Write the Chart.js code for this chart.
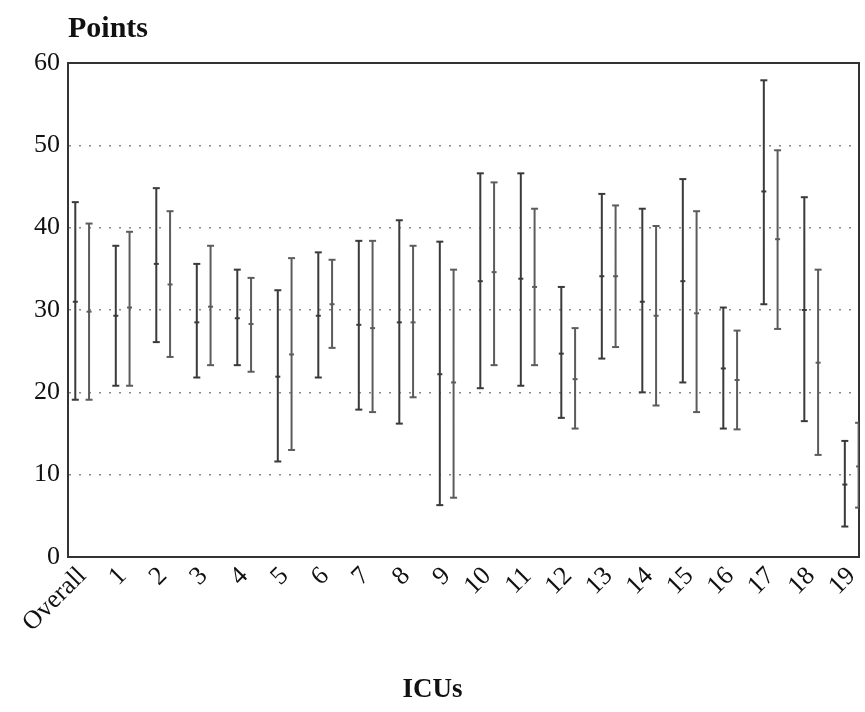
<!DOCTYPE html>
<html>
<head>
<meta charset="utf-8">
<script src="https://cdn.jsdelivr.net/npm/chart.js@4.4.1/dist/chart.umd.min.js"></script>
<style>
  html, body { margin: 0; padding: 0; background: #fff; }
  #wrap { width: 865px; height: 712px; }
</style>
</head>
<body>
<div id="wrap"><canvas id="icuChart"></canvas></div>
<script>
// categories along x
const categories = ['Overall', '1', '2', '3', '4', '5', '6', '7', '8', '9', '10',
    '11', '12', '13', '14', '15', '16', '17', '18', '19'];

// first bar of each pair
const lowA  = [19.1, 20.8, 26.1, 21.8, 23.3, 11.6, 21.8, 17.9, 16.2, 6.3, 20.5, 20.8, 16.9, 24.1, 20.0, 21.2, 15.6, 30.7, 16.5, 3.7];
const highA = [43.1, 37.8, 44.8, 35.6, 34.9, 32.4, 37.0, 38.4, 40.9, 38.3, 46.6, 46.6, 32.8, 44.1, 42.3, 45.9, 30.3, 57.9, 43.7, 14.1];
const midA  = [31.0, 29.3, 35.6, 28.5, 29.0, 21.9, 29.3, 28.2, 28.5, 22.2, 33.5, 33.8, 24.7, 34.1, 31.0, 33.5, 22.9, 44.4, 30.0, 8.8];

// second bar of each pair
const lowB  = [19.1, 20.8, 24.3, 23.3, 22.5, 13.0, 25.4, 17.6, 19.4, 7.2, 23.3, 23.3, 15.6, 25.5, 18.4, 17.6, 15.5, 27.7, 12.4, 6.0];
const highB = [40.5, 39.5, 42.0, 37.8, 33.9, 36.3, 36.1, 38.4, 37.8, 34.9, 45.5, 42.3, 27.8, 42.7, 40.2, 42.0, 27.5, 49.4, 34.9, 16.3];
const midB  = [29.8, 30.3, 33.1, 30.4, 28.3, 24.6, 30.7, 27.8, 28.5, 21.2, 34.6, 32.8, 21.6, 34.1, 29.3, 29.6, 21.5, 38.6, 23.6, 11.0];

const yTicks = [0, 10, 20, 30, 40, 50, 60];

const pairShift = 0.17;

// vertical whisker: low -> high, then a gap
function whiskers(lows, highs, shift) {
    const pts = [];
    lows.forEach(function(lo, i) {
        pts.push({x: i + shift, y: lo});
        pts.push({x: i + shift, y: highs[i]});
        pts.push({x: i + shift, y: null});
    });
    return pts;
}

function mids(vals, shift) {
    return vals.map(function(v, i) { return {x: i + shift, y: v}; });
}

const pointsLabel = {
    id: 'pointsLabel',
    afterDraw: function(chart) {
        const c = chart.ctx;
        c.save();
        c.font = 'bold 30px "Liberation Serif"';
        c.fillStyle = '#111';
        c.textBaseline = 'alphabetic';
        c.fillText('Points', chart.chartArea.left, 37);
        c.restore();
    }
};

document.addEventListener('DOMContentLoaded', function() {
    const ctx = document.getElementById('icuChart').getContext('2d');
    new Chart(ctx, {
        type: 'line',
        data: {
            datasets: [{
                data: whiskers(lowA, highA, -pairShift),
                borderColor: '#3a3a3a',
                borderWidth: 2,
                spanGaps: false,
                pointStyle: 'line',
                pointRadius: 3.5,
                pointBorderColor: '#3a3a3a',
                pointBorderWidth: 2
            }, {
                data: whiskers(lowB, highB, pairShift),
                borderColor: '#5c5c5c',
                borderWidth: 2,
                spanGaps: false,
                pointStyle: 'line',
                pointRadius: 3.5,
                pointBorderColor: '#5c5c5c',
                pointBorderWidth: 2
            }, {
                data: mids(midA, -pairShift),
                showLine: false,
                pointStyle: 'line',
                pointRadius: 2.5,
                pointBorderColor: '#3a3a3a',
                pointBorderWidth: 2
            }, {
                data: mids(midB, pairShift),
                showLine: false,
                pointStyle: 'line',
                pointRadius: 2.5,
                pointBorderColor: '#5c5c5c',
                pointBorderWidth: 2
            }]
        },
        options: {
            responsive: true,
            maintainAspectRatio: false,
            animation: false,
            layout: {
                padding: {top: 63, right: 0, left: 0, bottom: 0}
            },
            plugins: {
                legend: {display: false},
                tooltip: {enabled: false},
                title: {
                    display: true,
                    text: 'ICUs',
                    position: 'bottom',
                    color: '#111',
                    font: {family: 'Liberation Serif', size: 27, weight: 'bold'},
                    padding: {top: 0, bottom: 6}
                }
            },
            scales: {
                x: {
                    type: 'linear',
                    min: -0.35,
                    max: 19.18,
                    afterBuildTicks: function(s) {
                        s.ticks = categories.map(function(_, i) { return {value: i}; });
                    },
                    afterFit: function(s) {
                        s.height = 116.6;
                        s.paddingLeft = 0;
                        s.paddingRight = 0;
                    },
                    ticks: {
                        autoSkip: false,
                        minRotation: 45,
                        maxRotation: 45,
                        padding: 4,
                        color: '#111',
                        font: {family: 'Liberation Serif', size: 26},
                        callback: function(v) { return categories[v]; }
                    },
                    grid: {display: false, drawTicks: false},
                    border: {display: true, color: '#333', width: 2}
                },
                y: {
                    min: 0,
                    max: 60,
                    afterBuildTicks: function(s) {
                        s.ticks = yTicks.map(function(v) { return {value: v}; });
                    },
                    afterFit: function(s) {
                        s.width = 68;
                        s.paddingTop = 0;
                        s.paddingBottom = 0;
                    },
                    ticks: {
                        padding: 8,
                        color: '#111',
                        font: {family: 'Liberation Serif', size: 26}
                    },
                    grid: {
                        drawTicks: false,
                        lineWidth: 1.5,
                        color: function(c) {
                            const v = c.tick ? c.tick.value : 0;
                            return (v === 0 || v === 60) ? 'rgba(0,0,0,0)' : '#888';
                        }
                    },
                    border: {display: true, color: '#333', width: 2, dash: [2, 8]}
                },
                x2: {
                    type: 'linear',
                    position: 'top',
                    min: 0,
                    max: 1,
                    afterFit: function(s) { s.height = 0; s.paddingLeft = 0; s.paddingRight = 0; },
                    ticks: {display: false},
                    grid: {display: false, drawTicks: false},
                    border: {display: true, color: '#333', width: 2}
                },
                y2: {
                    type: 'linear',
                    position: 'right',
                    min: 0,
                    max: 1,
                    afterFit: function(s) { s.width = 0; s.paddingTop = 0; s.paddingBottom = 0; },
                    ticks: {display: false},
                    grid: {display: false, drawTicks: false},
                    border: {display: true, color: '#333', width: 2}
                }
            }
        },
        plugins: [pointsLabel]
    });
});
</script>
</body>
</html>
